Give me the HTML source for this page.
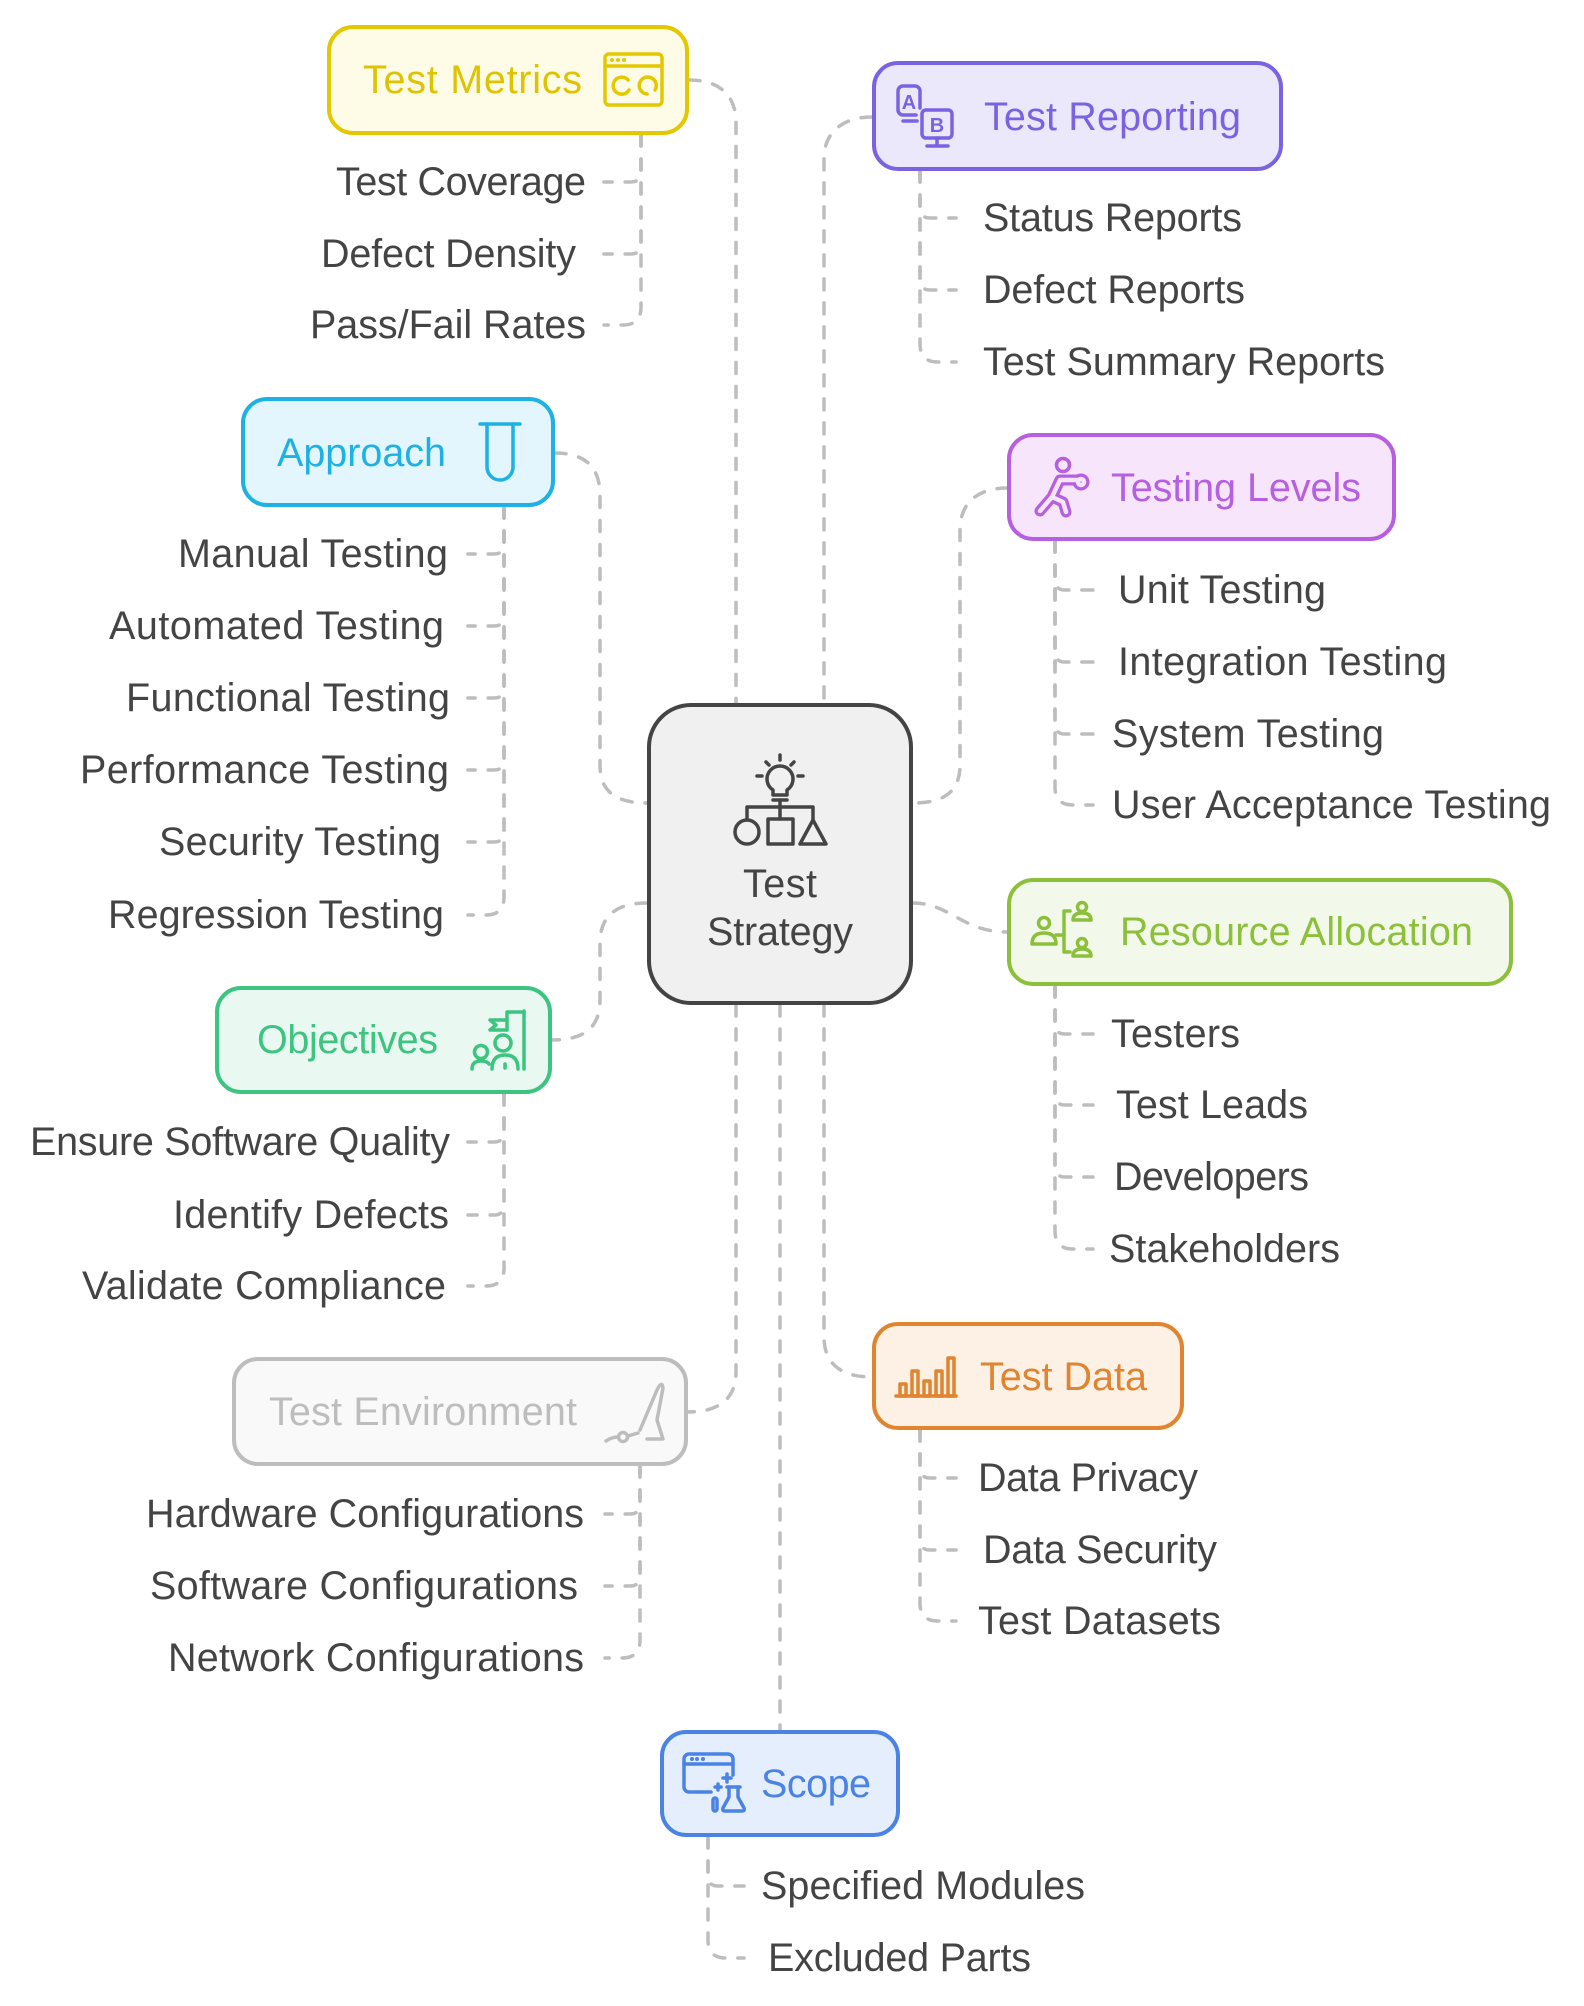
<!DOCTYPE html>
<html>
<head>
<meta charset="utf-8">
<style>
html,body{margin:0;padding:0;background:#fff;}
svg{display:block;}
text{font-family:"Liberation Sans",Arial,sans-serif;font-size:39.5px;}
.it{fill:#444;}
.c{fill:none;stroke:#bdbdbd;stroke-width:3.5;stroke-dasharray:11 13;stroke-linecap:round;}
.ic{fill:none;stroke-width:3.5;stroke-linecap:round;stroke-linejoin:round;}
</style>
</head>
<body>
<svg width="1584" height="2006" viewBox="0 0 1584 2006" xmlns="http://www.w3.org/2000/svg">
<rect width="1584" height="2006" fill="#fff"/>

<!-- main connectors -->
<path class="c" d="M689 80 C722 80 736 98 736 122 V703"/>
<path class="c" d="M872 117 C840 117 824 135 824 158 V703"/>
<path class="c" d="M555 453 C588 453 600 470 600 495 V765 C600 790 614 803 647 803"/>
<path class="c" d="M1008 488 C975 488 960 505 960 530 V765 C960 790 946 803 913 803"/>
<path class="c" d="M647 903 C614 903 600 918 600 943 V1000 C600 1026 586 1040 552 1040"/>
<path class="c" d="M913 903 C950 903 962 932 1007 932"/>
<path class="c" d="M736 1005 V1372 C736 1397 721 1412 688 1412"/>
<path class="c" d="M824 1005 V1337 C824 1362 839 1377 872 1377"/>
<path class="c" d="M780 1005 V1730"/>

<!-- sub connectors: Test Metrics -->
<path class="c" d="M641 135 V172 Q641 182 631 182 H604"/>
<path class="c" d="M641 135 V244 Q641 254 631 254 H604"/>
<path class="c" d="M641 135 V307 Q641 325 623 325 H604"/>
<!-- Test Reporting -->
<path class="c" d="M920 171 V208 Q920 218 930 218 H956"/>
<path class="c" d="M920 171 V280 Q920 290 930 290 H956"/>
<path class="c" d="M920 171 V344 Q920 362 938 362 H956"/>
<!-- Approach -->
<path class="c" d="M504 507 V544 Q504 554 494 554 H468"/>
<path class="c" d="M504 507 V616 Q504 626 494 626 H468"/>
<path class="c" d="M504 507 V688 Q504 698 494 698 H468"/>
<path class="c" d="M504 507 V760 Q504 770 494 770 H468"/>
<path class="c" d="M504 507 V832 Q504 842 494 842 H468"/>
<path class="c" d="M504 507 V897 Q504 915 486 915 H468"/>
<!-- Testing Levels -->
<path class="c" d="M1055 541 V580 Q1055 590 1065 590 H1093"/>
<path class="c" d="M1055 541 V652 Q1055 662 1065 662 H1093"/>
<path class="c" d="M1055 541 V724 Q1055 734 1065 734 H1093"/>
<path class="c" d="M1055 541 V787 Q1055 805 1073 805 H1093"/>
<!-- Resource Allocation -->
<path class="c" d="M1055 986 V1024 Q1055 1034 1065 1034 H1093"/>
<path class="c" d="M1055 986 V1095 Q1055 1105 1065 1105 H1093"/>
<path class="c" d="M1055 986 V1167 Q1055 1177 1065 1177 H1093"/>
<path class="c" d="M1055 986 V1231 Q1055 1249 1073 1249 H1093"/>
<!-- Objectives -->
<path class="c" d="M504 1094 V1132 Q504 1142 494 1142 H468"/>
<path class="c" d="M504 1094 V1205 Q504 1215 494 1215 H468"/>
<path class="c" d="M504 1094 V1268 Q504 1286 486 1286 H468"/>
<!-- Test Environment -->
<path class="c" d="M640 1466 V1504 Q640 1514 630 1514 H605"/>
<path class="c" d="M640 1466 V1576 Q640 1586 630 1586 H605"/>
<path class="c" d="M640 1466 V1640 Q640 1658 622 1658 H605"/>
<!-- Test Data -->
<path class="c" d="M920 1430 V1468 Q920 1478 930 1478 H956"/>
<path class="c" d="M920 1430 V1540 Q920 1550 930 1550 H956"/>
<path class="c" d="M920 1430 V1603 Q920 1621 938 1621 H956"/>
<!-- Scope -->
<path class="c" d="M708 1837 V1876 Q708 1886 718 1886 H744"/>
<path class="c" d="M708 1837 V1940 Q708 1958 726 1958 H744"/>

<!-- center node -->
<rect x="649" y="705" width="262" height="298" rx="42" fill="#f0f0f0" stroke="#444" stroke-width="4"/>
<g class="ic" stroke="#444">
  <path d="M773 790 A13 13 0 1 1 787 790 V795 H773 Z"/>
  <line x1="773" y1="800" x2="787" y2="800"/>
  <line x1="780" y1="755" x2="780" y2="760"/>
  <line x1="766" y1="762" x2="769" y2="765"/>
  <line x1="794" y1="762" x2="791" y2="765"/>
  <line x1="757" y1="776" x2="762" y2="776"/>
  <line x1="798" y1="776" x2="803" y2="776"/>
  <line x1="780" y1="800" x2="780" y2="819"/>
  <path d="M747 820 V807 H813 V820"/>
  <circle cx="747" cy="832" r="12"/>
  <rect x="768" y="819" width="25" height="25"/>
  <path d="M813 820 L826 844 H800 Z"/>
</g>
<text x="743" y="897" class="it" textLength="74" lengthAdjust="spacing">Test</text>
<text x="707" y="945" class="it" textLength="146" lengthAdjust="spacing">Strategy</text>

<!-- Test Metrics -->
<rect x="329" y="27" width="358" height="106" rx="24" fill="#fefbe6" stroke="#e3c800" stroke-width="4"/>
<text x="363" y="93" fill="#dfc300" textLength="219" lengthAdjust="spacing">Test Metrics</text>
<g class="ic" stroke="#e3c800">
  <rect x="605" y="54" width="57" height="51" rx="4"/>
  <line x1="605" y1="66" x2="662" y2="66"/>
  <path d="M628 80 A8.5 8.5 0 1 0 629 90"/>
  <path d="M655 90 A8.5 8.5 0 1 0 647 94"/>
</g>
<g fill="#e3c800"><circle cx="612" cy="60" r="2"/><circle cx="618" cy="60" r="2"/><circle cx="624" cy="60" r="2"/></g>
<text class="it" x="586" y="195" text-anchor="end" textLength="250" lengthAdjust="spacing">Test Coverage</text>
<text class="it" x="576" y="267" text-anchor="end" textLength="255" lengthAdjust="spacing">Defect Density</text>
<text class="it" x="586" y="338" text-anchor="end" textLength="276" lengthAdjust="spacing">Pass/Fail Rates</text>

<!-- Test Reporting -->
<rect x="874" y="63" width="407" height="106" rx="24" fill="#ebe8fc" stroke="#7b62e1" stroke-width="4"/>
<text x="984" y="130" fill="#7b62e1" textLength="257" lengthAdjust="spacing">Test Reporting</text>
<g class="ic" stroke="#7b62e1" stroke-width="3.2">
  <path d="M920 108 V91 a5 5 0 0 0 -5 -5 H903 a5 5 0 0 0 -5 5 V110 a5 5 0 0 0 5 5 H916"/>
  <path d="M903 121 H917"/>
  <rect x="922" y="110" width="30" height="28" rx="4"/>
  <line x1="937" y1="138" x2="937" y2="145"/>
  <line x1="927" y1="146" x2="948" y2="146"/>
</g>
<text x="909" y="109" text-anchor="middle" fill="#7b62e1" style="font-size:20px;font-weight:bold">A</text>
<text x="937" y="132" text-anchor="middle" fill="#7b62e1" style="font-size:20px;font-weight:bold">B</text>
<text class="it" x="983" y="231" textLength="259" lengthAdjust="spacing">Status Reports</text>
<text class="it" x="983" y="303" textLength="262" lengthAdjust="spacing">Defect Reports</text>
<text class="it" x="983" y="375" textLength="402" lengthAdjust="spacing">Test Summary Reports</text>

<!-- Approach -->
<rect x="243" y="399" width="310" height="106" rx="24" fill="#e4f6fd" stroke="#1eb1e4" stroke-width="4"/>
<text x="277" y="466" fill="#1eb1e4" textLength="169" lengthAdjust="spacing">Approach</text>
<g class="ic" stroke="#1eb1e4">
  <line x1="480" y1="424" x2="520" y2="424"/>
  <path d="M487 424 V467 A13 13 0 0 0 513 467 V424"/>
</g>
<text class="it" x="448" y="567" text-anchor="end" textLength="270" lengthAdjust="spacing">Manual Testing</text>
<text class="it" x="444" y="639" text-anchor="end" textLength="335" lengthAdjust="spacing">Automated Testing</text>
<text class="it" x="450" y="711" text-anchor="end" textLength="324" lengthAdjust="spacing">Functional Testing</text>
<text class="it" x="449" y="783" text-anchor="end" textLength="369" lengthAdjust="spacing">Performance Testing</text>
<text class="it" x="441" y="855" text-anchor="end" textLength="282" lengthAdjust="spacing">Security Testing</text>
<text class="it" x="444" y="928" text-anchor="end" textLength="336" lengthAdjust="spacing">Regression Testing</text>

<!-- Testing Levels -->
<rect x="1009" y="435" width="385" height="104" rx="24" fill="#f7e5fc" stroke="#b65fe0" stroke-width="4"/>
<text x="1111" y="501" fill="#b65fe0" textLength="250" lengthAdjust="spacing">Testing Levels</text>
<g fill="none" stroke-linecap="round" stroke-linejoin="round">
  <g stroke="#b65fe0" stroke-width="11">
    <path d="M1079 480 H1060 L1052 497 L1040 511"/>
    <path d="M1052 497 L1063 502 L1066 512"/>
    <circle cx="1081" cy="482" r="3"/>
  </g>
  <g stroke="#f7e5fc" stroke-width="4.5">
    <path d="M1079 480 H1060 L1052 497 L1040 511"/>
    <path d="M1052 497 L1063 502 L1066 512"/>
    <circle cx="1081" cy="482" r="3"/>
  </g>
  <circle cx="1063" cy="465" r="6.5" stroke="#b65fe0" stroke-width="3.5"/>
</g>
<text class="it" x="1118" y="603" textLength="208" lengthAdjust="spacing">Unit Testing</text>
<text class="it" x="1118" y="675" textLength="329" lengthAdjust="spacing">Integration Testing</text>
<text class="it" x="1112" y="747" textLength="272" lengthAdjust="spacing">System Testing</text>
<text class="it" x="1112" y="818" textLength="439" lengthAdjust="spacing">User Acceptance Testing</text>

<!-- Resource Allocation -->
<rect x="1009" y="880" width="502" height="104" rx="24" fill="#f3f9ea" stroke="#8cbf3a" stroke-width="4"/>
<text x="1120" y="945" fill="#8cbf3a" textLength="353" lengthAdjust="spacing">Resource Allocation</text>
<g class="ic" stroke="#8cbf3a" stroke-width="3.2">
  <circle cx="1044" cy="923" r="5.5"/>
  <path d="M1032 944 Q1032 933 1044 933 Q1056 933 1056 944 Z"/>
  <line x1="1056" y1="935" x2="1064" y2="935"/>
  <path d="M1070 911 H1064 V952 H1070"/>
  <circle cx="1082" cy="907" r="4.5"/>
  <path d="M1073 920 Q1073 913 1082 913 Q1091 913 1091 920 Z"/>
  <circle cx="1082" cy="943" r="4.5"/>
  <path d="M1073 956 Q1073 949 1082 949 Q1091 949 1091 956 Z"/>
</g>
<text class="it" x="1111" y="1047" textLength="129" lengthAdjust="spacing">Testers</text>
<text class="it" x="1116" y="1118" textLength="192" lengthAdjust="spacing">Test Leads</text>
<text class="it" x="1114" y="1190" textLength="195" lengthAdjust="spacing">Developers</text>
<text class="it" x="1109" y="1262" textLength="231" lengthAdjust="spacing">Stakeholders</text>

<!-- Objectives -->
<rect x="217" y="988" width="333" height="104" rx="24" fill="#e9f8f1" stroke="#3cc480" stroke-width="4"/>
<text x="257" y="1053" fill="#3cc480" textLength="181" lengthAdjust="spacing">Objectives</text>
<g class="ic" stroke="#3cc480" stroke-width="3.2">
  <line x1="524" y1="1011" x2="524" y2="1069"/>
  <path d="M524 1012 H507 V1030"/>
  <path d="M507 1020 H490 L496 1025 L490 1030 H507"/>
  <circle cx="503" cy="1043" r="8"/>
  <path d="M492 1069 Q492 1055 505 1055 Q518 1055 518 1069"/>
  <line x1="505" y1="1064" x2="505" y2="1068"/>
  <circle cx="481" cy="1052" r="6.5"/>
  <path d="M472 1069 Q472 1061 481 1061 Q487 1061 489 1064"/>
</g>
<text class="it" x="450" y="1155" text-anchor="end" textLength="420" lengthAdjust="spacing">Ensure Software Quality</text>
<text class="it" x="449" y="1228" text-anchor="end" textLength="276" lengthAdjust="spacing">Identify Defects</text>
<text class="it" x="446" y="1299" text-anchor="end" textLength="364" lengthAdjust="spacing">Validate Compliance</text>

<!-- Test Environment -->
<rect x="234" y="1359" width="452" height="105" rx="24" fill="#f9f9f9" stroke="#bdbdbd" stroke-width="4"/>
<text x="269" y="1425" fill="#bdbdbd" textLength="308" lengthAdjust="spacing">Test Environment</text>
<g class="ic" stroke="#bdbdbd" stroke-width="3.2">
  <path d="M640 1430 L657 1390 Q662 1380 663 1388 L657 1420 L663 1439 H647"/>
  <path d="M606 1441 Q612 1437 618 1437"/>
  <circle cx="623" cy="1437" r="4.5"/>
  <line x1="628" y1="1436" x2="638" y2="1433"/>
</g>
<text class="it" x="584" y="1527" text-anchor="end" textLength="438" lengthAdjust="spacing">Hardware Configurations</text>
<text class="it" x="578" y="1599" text-anchor="end" textLength="428" lengthAdjust="spacing">Software Configurations</text>
<text class="it" x="584" y="1671" text-anchor="end" textLength="416" lengthAdjust="spacing">Network Configurations</text>

<!-- Test Data -->
<rect x="874" y="1324" width="308" height="104" rx="24" fill="#fdf1e5" stroke="#e0842f" stroke-width="4"/>
<text x="980" y="1390" fill="#e0842f" textLength="167" lengthAdjust="spacing">Test Data</text>
<g class="ic" stroke="#e0842f" stroke-width="3.2">
  <line x1="896" y1="1396" x2="956" y2="1396"/>
  <rect x="900" y="1384" width="6" height="12"/>
  <rect x="912" y="1371" width="6" height="25"/>
  <rect x="924" y="1381" width="6" height="15"/>
  <rect x="936" y="1371" width="6" height="25"/>
  <rect x="948" y="1358" width="6" height="38"/>
</g>
<text class="it" x="978" y="1491" textLength="220" lengthAdjust="spacing">Data Privacy</text>
<text class="it" x="983" y="1563" textLength="234" lengthAdjust="spacing">Data Security</text>
<text class="it" x="978" y="1634" textLength="243" lengthAdjust="spacing">Test Datasets</text>

<!-- Scope -->
<rect x="662" y="1732" width="236" height="103" rx="24" fill="#e5eefd" stroke="#4a83e4" stroke-width="4"/>
<text x="761" y="1797" fill="#4a83e4" textLength="110" lengthAdjust="spacing">Scope</text>
<g class="ic" stroke="#4a83e4" stroke-width="3.2">
  <path d="M711 1792 H689 a5 5 0 0 1 -5 -5 V1759 a5 5 0 0 1 5 -5 H728 a5 5 0 0 1 5 5 V1775"/>
  <line x1="684" y1="1764" x2="733" y2="1764"/>
  <path d="M729 1787 V1797 L723 1808 Q722 1811 725 1811 H742 Q745 1811 744 1808 L738 1797 V1787"/>
  <line x1="727" y1="1787" x2="740" y2="1787"/>
  <rect x="713" y="1798" width="4" height="13" rx="2"/>
  <path d="M727 1774 V1782 M723 1778 H731"/>
  <path d="M718 1784 V1790 M715 1787 H721"/>
</g>
<g fill="#4a83e4"><circle cx="692" cy="1759" r="2"/><circle cx="697" cy="1759" r="2"/><circle cx="703" cy="1759" r="2"/></g>
<text class="it" x="761" y="1899" textLength="324" lengthAdjust="spacing">Specified Modules</text>
<text class="it" x="768" y="1971" textLength="263" lengthAdjust="spacing">Excluded Parts</text>
</svg>
</body>
</html>
